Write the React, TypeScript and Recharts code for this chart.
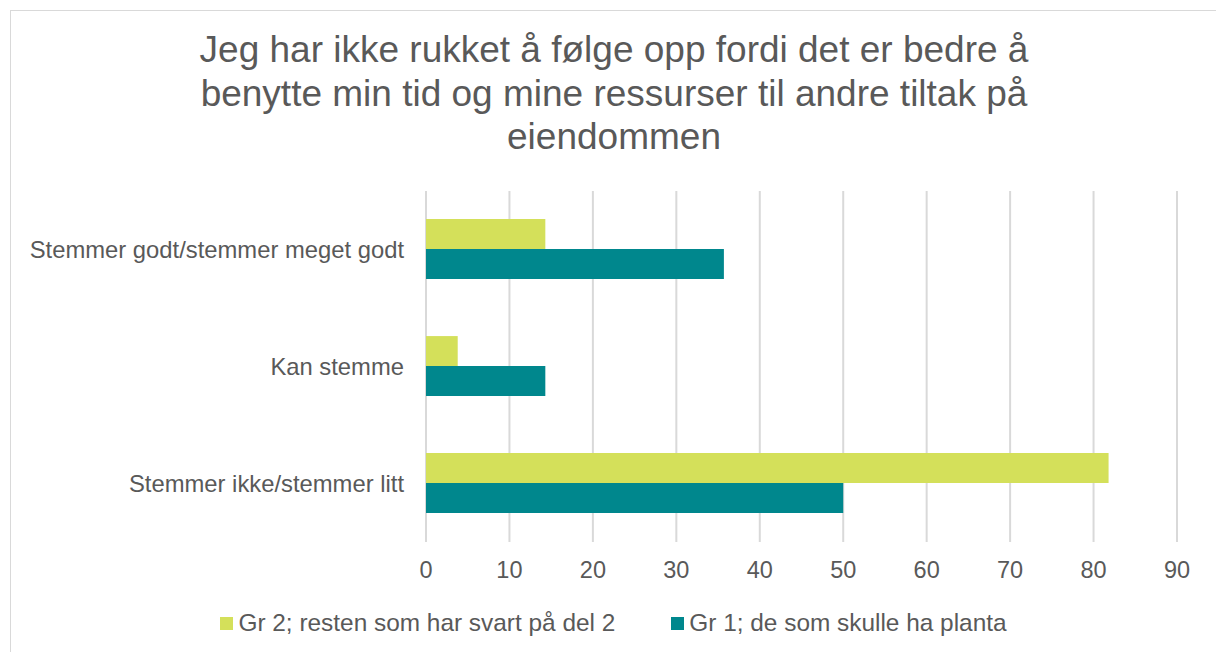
import { Bar, BarChart, CartesianGrid, Legend, XAxis, YAxis } from "recharts";

const categories = [
  "Stemmer godt/stemmer meget godt",
  "Kan stemme",
  "Stemmer ikke/stemmer litt",
];
const gr2Values = [14.3, 3.8, 81.8];
const gr1Values = [35.7, 14.3, 50];
const xTicks = [0, 10, 20, 30, 40, 50, 60, 70, 80, 90];
const titleLines = [
  "Jeg har ikke rukket å følge opp fordi det er bedre å",
  "benytte min tid og mine ressurser til andre tiltak på",
  "eiendommen",
];

const GR2_NAME = "Gr 2; resten som har svart på del 2";
const GR1_NAME = "Gr 1; de som skulle ha planta";
const legendOrder = [GR2_NAME, GR1_NAME];
const GR2_COLOR = "#d4e05a";
const GR1_COLOR = "#00878d";
const TEXT_COLOR = "#595959";
const FONT = "'Liberation Sans', Arial, sans-serif";

const data = categories.map((name, i) => ({
  name,
  gr2: gr2Values[i],
  gr1: gr1Values[i],
}));

function LegendContent({ payload }: any) {
  const items = [...(payload || [])].sort(
    (a: any, b: any) => legendOrder.indexOf(a.value) - legendOrder.indexOf(b.value)
  );
  return (
    <div
      style={{
        display: "flex",
        justifyContent: "center",
        gap: 56,
        height: 33,
        paddingTop: 9,
        paddingLeft: 39,
        boxSizing: "border-box",
        fontFamily: FONT,
      }}
    >
      {items.map((entry: any) => (
        <div
          key={entry.value}
          style={{ display: "flex", alignItems: "center", color: TEXT_COLOR, fontSize: 24.4 }}
        >
          <span
            style={{
              display: "inline-block",
              width: 13,
              height: 13,
              background: entry.color,
              marginRight: 5,
            }}
          />
          {entry.value}
        </div>
      ))}
    </div>
  );
}

export default function App() {
  return (
    <div
      style={{
        position: "fixed",
        left: 10,
        top: 10,
        width: 1206,
        height: 642,
        borderLeft: "1px solid #d9d9d9",
        borderTop: "1px solid #d9d9d9",
        background: "#fff",
        fontFamily: FONT,
        overflow: "hidden",
      }}
    >
      <div
        style={{
          position: "absolute",
          left: 0,
          top: 17,
          width: 1206,
          textAlign: "center",
          color: TEXT_COLOR,
          fontSize: 37,
          lineHeight: "43.5px",
        }}
      >
        {titleLines.map((l) => (
          <div key={l}>{l}</div>
        ))}
      </div>
      <div style={{ position: "absolute", left: 0, top: 0 }}>
        <BarChart
          width={1205}
          height={641}
          data={data}
          layout="vertical"
          margin={{ top: 180, right: 39, bottom: 17, left: 0 }}
          barCategoryGap="24%"
          barGap={0}
        >
          <CartesianGrid horizontal={false} stroke="#d9d9d9" strokeWidth={2} />
          <XAxis
            type="number"
            domain={[0, 90]}
            ticks={xTicks}
            axisLine={false}
            tickLine={false}
            tickSize={0}
            tickMargin={19}
            height={60}
            tick={{ fill: TEXT_COLOR, fontSize: 23.5, fontFamily: FONT }}
          />
          <YAxis
            type="category"
            dataKey="name"
            width={415}
            axisLine={false}
            tickLine={false}
            tickSize={0}
            tickMargin={22}
            tick={{ fill: TEXT_COLOR, fontSize: 23.8, fontFamily: FONT }}
          />
          <Legend verticalAlign="bottom" content={<LegendContent />} />
          <Bar dataKey="gr2" name={GR2_NAME} fill={GR2_COLOR} isAnimationActive={false} />
          <Bar dataKey="gr1" name={GR1_NAME} fill={GR1_COLOR} isAnimationActive={false} />
        </BarChart>
      </div>
    </div>
  );
}
